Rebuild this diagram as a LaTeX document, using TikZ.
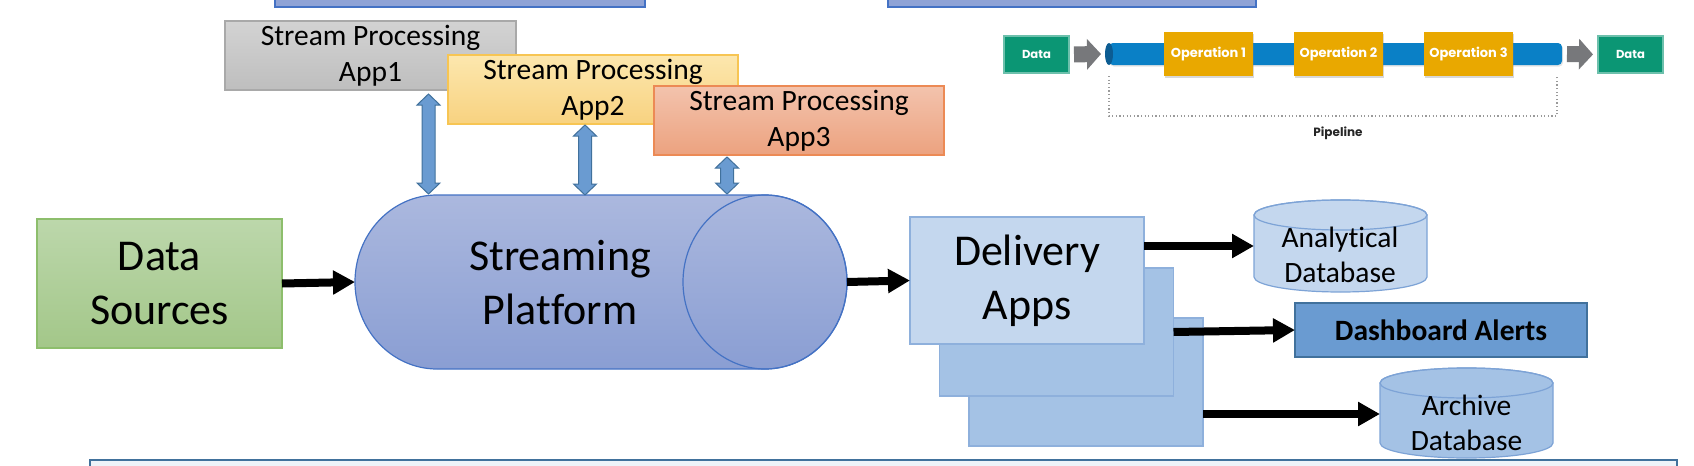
\documentclass[tikz,border=0pt]{standalone}
\usepackage{fontspec}
\setmainfont{Carlito}[Ligatures={NoCommon}]
\newfontfamily\pipefont{Poppins}
\usetikzlibrary{arrows.meta,shadows,calc}
\definecolor{topblue}{HTML}{8FA3D6}
\definecolor{edgeblue}{HTML}{4472C4}
\definecolor{appgrayT}{HTML}{D3D3D3}
\definecolor{appgrayB}{HTML}{BEBEBE}
\definecolor{appgrayE}{HTML}{A9A9A9}
\definecolor{appyelT}{HTML}{FCE7AE}
\definecolor{appyelB}{HTML}{F8D280}
\definecolor{appyelE}{HTML}{F7C553}
\definecolor{appredT}{HTML}{F3C3AD}
\definecolor{appredB}{HTML}{ECA27F}
\definecolor{appredE}{HTML}{EC8A55}
\definecolor{greenT}{HTML}{BCD7AB}
\definecolor{greenB}{HTML}{A3C789}
\definecolor{greenE}{HTML}{8DBE6C}
\definecolor{cylT}{HTML}{ABB8DE}
\definecolor{cylB}{HTML}{8A9ED3}
\definecolor{lightblue}{HTML}{C4D7EE}
\definecolor{midblue}{HTML}{A4C2E5}
\definecolor{boxedge}{HTML}{8EB0DC}
\definecolor{dbedge}{HTML}{7DA3D6}
\definecolor{dashfill}{HTML}{6A9BD1}
\definecolor{darkedge}{HTML}{41719C}
\definecolor{bottomfill}{HTML}{EEF3F9}
\definecolor{pipeteal}{HTML}{0B9674}
\definecolor{opgold}{HTML}{E9A800}
\definecolor{pipeblue}{HTML}{0A80C6}
\definecolor{pipecap}{HTML}{0C5C92}
\definecolor{arrowgray}{HTML}{77787B}
\definecolor{dotgray}{HTML}{9A9A9A}
\newcommand\blockdarrow[2]{%
  \filldraw[fill=dashfill, draw=darkedge, line width=0.5pt]
   (#1) -- ($(#1)+(11.5,11)$) -- ($(#1)+(6.5,11)$) -- ($(#2)+(6.5,-11)$)
   -- ($(#2)+(11.5,-11)$) -- (#2) -- ($(#2)+(-11.5,-11)$) -- ($(#2)+(-6.5,-11)$)
   -- ($(#1)+(-6.5,11)$) -- ($(#1)+(-11.5,11)$) -- cycle;}
\begin{document}
\begin{tikzpicture}[x=0.5pt, y=-0.5pt,
  boxnode/.style={rectangle, inner sep=0pt, outer sep=0pt, line width=0.6pt, align=center},
  apptext/.style={font=\fontsize{14.75}{18}\selectfont},
  bigtext/.style={font=\fontsize{22}{27}\selectfont},
  dbtext/.style={font=\fontsize{14.75}{17.5}\selectfont, align=center, inner sep=0pt},
  blkarrow/.style={line width=4pt, -{Triangle[length=11pt,width=11.5pt]}},
  grayarrow/.style={arrowgray, line width=8pt, -{Triangle[length=7pt,width=15pt]}},
  pipetext/.style={text=white, font=\pipefont\bfseries\fontsize{5.8}{7}\selectfont},
  optext/.style={text=white, font=\pipefont\bfseries\fontsize{6.5}{8}\selectfont},
  opbox/.style={boxnode, fill=opgold, minimum width=44.5pt, minimum height=22pt, optext,
     drop shadow={shadow xshift=0.6pt, shadow yshift=-0.8pt, opacity=0.3}},
  databox/.style={boxnode, fill=pipeteal, draw=pipeteal!60, minimum width=32.5pt, minimum height=18.5pt, pipetext},
  dbshape/.style={line width=0.6pt, draw=dbedge},
]
\useasboundingbox (0,0) rectangle (1694,466);
\fill[white] (0,0) rectangle (1694,466);
\clip (0,0) rectangle (1694,466);

% partial boxes at the top edge
\node[boxnode, fill=topblue, draw=edgeblue, minimum width=185pt, minimum height=10pt] (topA) at (460,-3) {};
\node[boxnode, fill=topblue, draw=edgeblue, minimum width=184pt, minimum height=10pt] (topB) at (1072,-3) {};

% stream processing apps
\node[boxnode, top color=appgrayT, bottom color=appgrayB, draw=appgrayE, minimum width=145.5pt, minimum height=34.5pt, apptext] (app1) at (370.5,55.5) {Stream Processing\\App1};
\node[boxnode, top color=appyelT, bottom color=appyelB, draw=appyelE, minimum width=145pt, minimum height=34.5pt, apptext] (app2) at (593,89.5) {Stream Processing\\App2};
\node[boxnode, top color=appredT, bottom color=appredB, draw=appredE, minimum width=145pt, minimum height=34.5pt, apptext] (app3) at (799,120.5) {Stream Processing\\App3};

% data sources
\node[boxnode, top color=greenT, bottom color=greenB, draw=greenE, minimum width=122.5pt, minimum height=64.5pt, bigtext] (ds) at (159.5,283.5) {Data\\Sources};

% streaming platform cylinder
\shadedraw[top color=cylT, bottom color=cylB, draw=edgeblue, line width=0.6pt]
  (437,195) arc[start angle=90, end angle=270, x radius=41pt, y radius=43.5pt]
  -- (765,369) arc[start angle=270, end angle=450, x radius=41pt, y radius=43.5pt] -- cycle;
\draw[edgeblue, line width=0.6pt] (765,282) ellipse [x radius=41pt, y radius=43.5pt];
\node[bigtext, align=center, inner sep=0pt] (spl) at (560,283) {Streaming\\Platform};
\coordinate (spW) at (355,282);
\coordinate (spE) at (847,282);

% double arrows between apps and platform
\coordinate (d1t) at (428.5,94);  \coordinate (d1b) at (428.5,194);
\coordinate (d2t) at (585,125);   \coordinate (d2b) at (585,195);
\coordinate (d3t) at (727,157);   \coordinate (d3b) at (727,194);
\blockdarrow{d1t}{d1b}
\blockdarrow{d2t}{d2b}
\blockdarrow{d3t}{d3b}

% delivery apps
\node[boxnode, fill=midblue, draw=boxedge, minimum width=117pt, minimum height=64pt] (del3) at (1086,382) {};
\node[boxnode, fill=midblue, draw=boxedge, minimum width=117pt, minimum height=64pt] (del2) at (1056.5,332) {};
\node[boxnode, fill=lightblue, draw=boxedge, minimum width=117pt, minimum height=63.5pt, bigtext] (del) at (1027,280.5) {Delivery\\Apps};

% analytical database
\filldraw[fill=lightblue, dbshape] (1254,215) -- (1254,277)
  arc[start angle=180, end angle=360, x radius=43.25pt, y radius=7.5pt]
  -- (1427,215) arc[start angle=0, end angle=180, x radius=43.25pt, y radius=7.5pt] -- cycle;
\draw[dbshape] (1340.5,215) ellipse [x radius=43.25pt, y radius=7.5pt];
\node[dbtext] (adb) at (1340,255) {Analytical\\Database};
\coordinate (adbW) at (1254,246);

% archive database
\filldraw[fill=midblue, dbshape] (1380,383) -- (1380,443)
  arc[start angle=180, end angle=360, x radius=43.25pt, y radius=7.5pt]
  -- (1553,383) arc[start angle=0, end angle=180, x radius=43.25pt, y radius=7.5pt] -- cycle;
\draw[dbshape] (1466.5,383) ellipse [x radius=43.25pt, y radius=7.5pt];
\node[dbtext] (arc) at (1466.5,422.5) {Archive\\Database};
\coordinate (arcW) at (1380,414);

% dashboard
\node[boxnode, fill=dashfill, draw=darkedge, line width=1pt, minimum width=146pt, minimum height=27pt,
      font=\bfseries\fontsize{14.75}{17}\selectfont] (dash) at (1441,330) {Dashboard Alerts};

% black arrows
\draw[blkarrow] (ds.east) -- (spW);
\draw[blkarrow] (spE) -- (del.west);
\draw[blkarrow] (del.east |- adbW) -- (adbW);
\draw[blkarrow] (del2.east) -- (dash.west);
\draw[blkarrow] (del3.east |- arcW) -- (arcW);

% bottom box
\node[boxnode, fill=bottomfill, draw=darkedge, line width=1pt, minimum width=793.5pt, minimum height=30pt] (bottombox) at (883.5,490) {};

% pipeline
\node[databox] (data1) at (1036.5,54.5) {Data};
\fill[pipeblue, rounded corners=2pt, drop shadow={shadow xshift=0.5pt, shadow yshift=-0.8pt, opacity=0.2}] (1109,43) rectangle (1562,65);
\fill[pipecap] (1109,54) ellipse [x radius=2pt, y radius=5.5pt];
\node[opbox] (op1) at (1208.5,54) {Operation 1};
\node[opbox] (op2) at (1338.5,54) {Operation 2};
\node[opbox] (op3) at (1468.5,54) {Operation 3};
\node[databox] (data2) at (1630.5,54.5) {Data};
\coordinate (pin) at (1101,54);
\coordinate (pout) at (1567,54);
\draw[grayarrow, shorten <=2.5pt] (data1.east) -- (pin);
\draw[grayarrow, shorten >=2.5pt] (pout) -- (data2.west);
\draw[dotgray, line width=0.6pt, dash pattern=on 0.6pt off 1.2pt] (1109,76) -- (1109,116) -- (1557,116) -- (1557,76);
\node[font=\pipefont\bfseries\fontsize{6}{7}\selectfont, text=black!85, inner sep=0pt] (pl) at (1338,133) {Pipeline};
\end{tikzpicture}
\end{document}
